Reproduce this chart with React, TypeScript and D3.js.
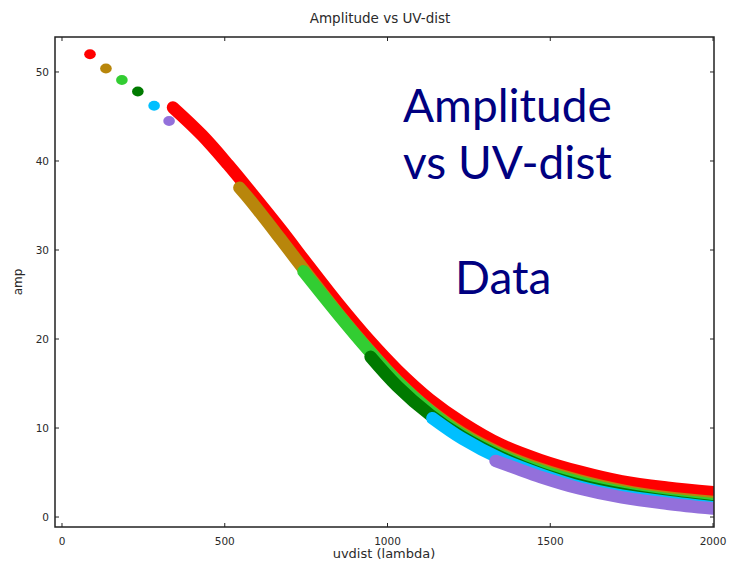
import React from "react";
import * as d3 from "d3";

const xTicks = [0, 500, 1000, 1500, 2000];
const yTicks = [0, 10, 20, 30, 40, 50];

const seriesNames = ["red", "brown", "lightgreen", "darkgreen", "cyan", "purple"];
const seriesColors = ["#ff0000", "#b8860b", "#32cd32", "#007a00", "#00bfff", "#9370db"];

// short-baseline points, one per series
const dotU = [86, 135, 184, 233, 283, 329];
const dotAmp = [52.0, 50.4, 49.1, 47.8, 46.2, 44.5];

// long-baseline bands, [uvdist, amp]
const redBand: [number, number][] = [
  [341, 46.0], [430, 42.9], [510, 39.6], [580, 36.5], [670, 32.4], [760, 28.1],
  [850, 23.9], [940, 20.0], [1030, 16.5], [1130, 13.2], [1230, 10.6], [1350, 8.1],
  [1470, 6.4], [1590, 5.1], [1720, 4.0], [1860, 3.3], [2000, 2.8],
];
const brownBand: [number, number][] = [
  [545, 37.0], [580, 35.5], [670, 31.3], [760, 27.0], [850, 22.8], [940, 18.9],
  [1030, 15.3], [1130, 12.0], [1230, 9.4], [1350, 7.1], [1470, 5.4], [1590, 4.1],
  [1720, 3.0], [1860, 2.2], [2000, 1.7],
];
const lightGreenBand: [number, number][] = [
  [742, 27.6], [850, 22.7], [940, 18.8], [1030, 15.2], [1130, 11.9], [1230, 9.2],
  [1350, 6.9], [1470, 5.2], [1590, 3.9], [1720, 2.8], [1860, 2.0], [2000, 1.45],
];
const darkGreenBand: [number, number][] = [
  [948, 18.0], [1030, 14.7], [1130, 11.5], [1230, 9.0], [1350, 6.7], [1470, 4.9],
  [1590, 3.6], [1720, 2.6], [1860, 1.8], [2000, 1.2],
];
const cyanBand: [number, number][] = [
  [1138, 11.1], [1230, 8.8], [1350, 6.5], [1470, 4.8], [1590, 3.4], [1720, 2.4],
  [1860, 1.7], [2000, 1.1],
];
const purpleBand: [number, number][] = [
  [1332, 6.3], [1400, 5.4], [1470, 4.5], [1590, 3.2], [1720, 2.2], [1860, 1.5],
  [2000, 0.96],
];

const bands = [redBand, brownBand, lightGreenBand, darkGreenBand, cyanBand, purpleBand];

const W = 729;
const H = 564;
const left = 55, right = 714, top = 37, bottom = 527;

export default function App() {
  const x = d3.scaleLinear().domain([-21.5, 2003]).range([left, right]);
  const y = d3.scaleLinear().domain([-1.12, 53.93]).range([bottom, top]);
  const line = d3
    .line<[number, number]>()
    .x((d) => x(d[0]))
    .y((d) => y(d[1]))
    .curve(d3.curveCatmullRom.alpha(0.5));
  const tickFont = { fontFamily: "DejaVu Sans", fontSize: 10.5, fill: "#2a2a2a" };
  const bigFont = { fontFamily: "Lato", fontSize: 46, fill: "#000080" };
  return (
    <svg width={W} height={H} style={{ position: "absolute", left: 0, top: 0, background: "#fff" }}>
      <defs>
        <clipPath id="plotClip">
          <rect x={left} y={top} width={right - left} height={bottom - top} />
        </clipPath>
      </defs>
      <rect x={0} y={0} width={W} height={H} fill="#fff" />
      <text x={380} y={23} textAnchor="middle" fontFamily="DejaVu Sans" fontSize={13.5} fill="#2a2a2a">
        Amplitude vs UV-dist
      </text>
      <g clipPath="url(#plotClip)">
        {bands.map((b, i) => (
          <path
            key={seriesNames[i]}
            d={line(b) || ""}
            fill="none"
            stroke={seriesColors[i]}
            strokeWidth={12.5}
            strokeLinecap="round"
            strokeLinejoin="round"
          />
        ))}
        {dotU.map((u, i) => (
          <ellipse key={"dot" + i} cx={x(u)} cy={y(dotAmp[i])} rx={5.8} ry={5} fill={seriesColors[i]} />
        ))}
      </g>
      <rect x={left} y={top} width={right - left} height={bottom - top} fill="none" stroke="#222" strokeWidth={1.5} />
      {xTicks.map((t) => (
        <g key={"x" + t}>
          <line x1={x(t)} x2={x(t)} y1={bottom} y2={bottom - 4} stroke="#222" />
          <line x1={x(t)} x2={x(t)} y1={top} y2={top + 4} stroke="#222" />
          <text x={x(t)} y={545} textAnchor="middle" {...tickFont}>
            {t}
          </text>
        </g>
      ))}
      {yTicks.map((t) => (
        <g key={"y" + t}>
          <line x1={left} x2={left + 4} y1={y(t)} y2={y(t)} stroke="#222" />
          <line x1={right} x2={right - 4} y1={y(t)} y2={y(t)} stroke="#222" />
          <text x={49} y={y(t) + 4} textAnchor="end" {...tickFont}>
            {t}
          </text>
        </g>
      ))}
      <text x={384} y={558} textAnchor="middle" fontFamily="DejaVu Sans" fontSize={13} fill="#2a2a2a">
        uvdist (lambda)
      </text>
      <text
        transform={`translate(22,${(top + bottom) / 2}) rotate(-90)`}
        textAnchor="middle"
        fontFamily="DejaVu Sans"
        fontSize={12}
        fill="#2a2a2a"
      >
        amp
      </text>
      <text x={403} y={122} {...bigFont}>Amplitude</text>
      <text x={403} y={179} {...bigFont}>vs UV-dist</text>
      <text x={455} y={294} {...bigFont}>Data</text>
    </svg>
  );
}
